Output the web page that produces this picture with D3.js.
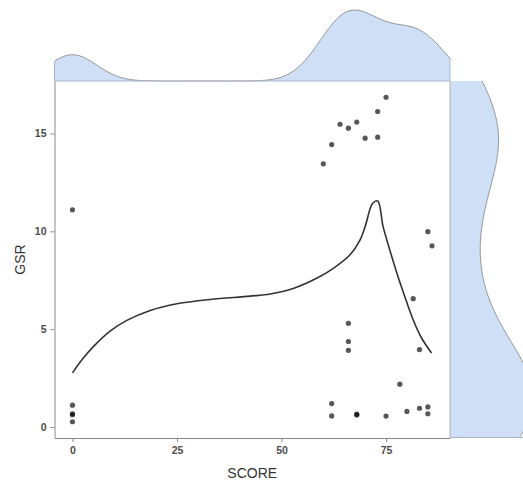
<!DOCTYPE html>
<html>
<head>
<meta charset="utf-8">
<script src="https://cdn.jsdelivr.net/npm/d3@7/dist/d3.min.js"></script>
<style>
  html, body { margin: 0; padding: 0; background: #fff; }
  svg { display: block; }
</style>
</head>
<body>
<svg id="chart" width="523" height="484"></svg>
<script>
// ---- data ----
const score = [0, 0, 0, 0, 0,
  60, 62, 64, 66, 68, 70, 73, 73, 75,
  85, 86, 81.5, 83,
  66, 66, 66,
  78.3, 62, 62, 68, 68, 75, 80, 83, 85, 85];
const gsr = [11.1, 1.12, 0.68, 0.63, 0.27,
  13.45, 14.43, 15.47, 15.27, 15.58, 14.76, 14.81, 16.12, 16.85,
  9.98, 9.26, 6.56, 3.96,
  5.3, 4.37, 3.92,
  2.19, 1.2, 0.57, 0.62, 0.66, 0.56, 0.8, 0.96, 1.03, 0.68];

// loess smooth line (fitted values)
const smoothX = [0, 2.5, 5, 9, 13, 18.6, 25, 32.9, 42.5, 47.3, 52.8, 58.4, 62.4, 66.4, 68.8, 70, 71.8, 73, 74.3, 75.9, 77.6, 79.5, 81.5, 83.5, 85.9];
const smoothY = [2.77, 3.5, 4.11, 4.9, 5.45, 5.96, 6.3, 6.52, 6.69, 6.8, 7.08, 7.6, 8.11, 8.8, 9.56, 10.24, 11.43, 11.55, 10.24, 9.05, 7.86, 6.66, 5.47, 4.55, 3.78];

const xTicks = [0, 25, 50, 75];
const yTicks = [0, 5, 10, 15];

// ---- layout ----
const svg = d3.select("#chart");
const P = { left: 54.5, right: 450, top: 81, bottom: 438 };

function expand(ext) {
  const r = ext[1] - ext[0];
  return [ext[0] - 0.05 * r, ext[1] + 0.05 * r];
}
const x = d3.scaleLinear().domain(expand(d3.extent(score))).range([P.left, P.right]);
const y = d3.scaleLinear().domain(expand(d3.extent(gsr))).range([P.bottom, P.top]);

// ---- kernel density (gaussian, bw.nrd0) ----
function nrd0(v) {
  const s = v.slice().sort(d3.ascending);
  const sd = d3.deviation(s);
  const iqr = (d3.quantile(s, 0.75) - d3.quantile(s, 0.25)) / 1.34;
  const lo = Math.min(sd, iqr || sd);
  return 0.9 * lo * Math.pow(s.length, -0.2);
}
function kde(v, grid) {
  const bw = nrd0(v);
  const c = 1 / (v.length * bw * Math.sqrt(2 * Math.PI));
  return grid.map(g => [g, c * d3.sum(v, d => Math.exp(-0.5 * ((g - d) / bw) ** 2))]);
}
const fillCol = "#cfdff6";
const edgeCol = "#6e6e6e";

// top marginal (SCORE)
const xd = x.domain();
const gridX = d3.range(0, 301).map(i => xd[0] + (xd[1] - xd[0]) * i / 300);
const densX = kde(score, gridX);
const dyTop = d3.scaleLinear().domain([0, d3.max(densX, d => d[1])]).range([P.top, 10]);
svg.append("path")
  .datum(densX)
  .attr("d", d3.area().x(d => x(d[0])).y0(P.top).y1(d => dyTop(d[1])))
  .attr("fill", fillCol).attr("stroke", "none");
svg.append("path")
  .datum(densX)
  .attr("d", d3.line().x(d => x(d[0])).y(d => dyTop(d[1])))
  .attr("fill", "none").attr("stroke", edgeCol).attr("stroke-width", 0.7);
svg.append("line").attr("x1", P.left).attr("x2", P.right).attr("y1", P.top).attr("y2", P.top)
  .attr("stroke", "#a9b6c8").attr("stroke-width", 1);
svg.append("line").attr("x1", P.right).attr("x2", P.right).attr("y1", dyTop(densX[densX.length-1][1])).attr("y2", P.top)
  .attr("stroke", "#a9b6c8").attr("stroke-width", 1);

// right marginal (GSR)
const yd = y.domain();
const gridY = d3.range(0, 301).map(i => yd[0] + (yd[1] - yd[0]) * i / 300);
const densY = kde(gsr, gridY);
const dxRight = d3.scaleLinear().domain([0, d3.max(densY, d => d[1])]).range([P.right, P.right + 84]);
svg.append("path")
  .datum(densY)
  .attr("d", d3.area().y(d => y(d[0])).x0(P.right).x1(d => dxRight(d[1])))
  .attr("fill", fillCol).attr("stroke", "none");
svg.append("path")
  .datum(densY)
  .attr("d", d3.line().y(d => y(d[0])).x(d => dxRight(d[1])))
  .attr("fill", "none").attr("stroke", edgeCol).attr("stroke-width", 0.7);
svg.append("line").attr("x1", P.right).attr("x2", 523).attr("y1", P.bottom - 0.5).attr("y2", P.bottom - 0.5)
  .attr("stroke", "#a9b6c8").attr("stroke-width", 1);
svg.append("line").attr("x1", P.right).attr("x2", P.right).attr("y1", P.top).attr("y2", P.bottom)
  .attr("stroke", "#b4b4b4").attr("stroke-width", 1);

// ---- axes ----
const axisCol = "#8a8a8a";
const labCol = "#4d4d4d";
const gx = svg.append("g").attr("transform", `translate(0,${P.bottom})`)
  .call(d3.axisBottom(x).tickValues(xTicks).tickSize(4).tickPadding(5).tickSizeOuter(0));
const gy = svg.append("g").attr("transform", `translate(${P.left},0)`)
  .call(d3.axisLeft(y).tickValues(yTicks).tickSize(4).tickPadding(4).tickSizeOuter(0));
[gx, gy].forEach(g => {
  g.select(".domain").attr("stroke", axisCol).attr("stroke-width", 1);
  g.selectAll(".tick line").attr("stroke", axisCol);
  g.selectAll(".tick text").attr("fill", labCol)
    .style("font-family", "'Liberation Sans', Arial, sans-serif")
    .style("font-size", "10.5px").style("font-weight", "bold");
});
// extend left axis line up through top marginal
svg.append("line").attr("x1", P.left).attr("x2", P.left).attr("y1", dyTop(densX[0][1])).attr("y2", P.top)
  .attr("stroke", "#a9b6c8").attr("stroke-width", 1);

svg.append("text").attr("x", (P.left + P.right) / 2).attr("y", 478)
  .attr("text-anchor", "middle").attr("fill", "#333")
  .style("font-family", "'Liberation Sans', Arial, sans-serif").style("font-size", "14px")
  .text("SCORE");
svg.append("text").attr("transform", `translate(25,${(P.top + P.bottom) / 2}) rotate(-90)`)
  .attr("text-anchor", "middle").attr("fill", "#333")
  .style("font-family", "'Liberation Sans', Arial, sans-serif").style("font-size", "14px")
  .text("GSR");

// ---- points ----
svg.append("g").selectAll("circle")
  .data(d3.range(score.length))
  .join("circle")
  .attr("cx", i => x(score[i]))
  .attr("cy", i => y(gsr[i]))
  .attr("r", 2.6)
  .attr("fill", "#000").attr("fill-opacity", 0.66);

// ---- smooth line ----
svg.append("path")
  .datum(d3.range(smoothX.length))
  .attr("d", d3.line().x(i => x(smoothX[i])).y(i => y(smoothY[i])).curve(d3.curveCatmullRom.alpha(0.5)))
  .attr("fill", "none").attr("stroke", "#333").attr("stroke-width", 1.6);
</script>
</body>
</html>
